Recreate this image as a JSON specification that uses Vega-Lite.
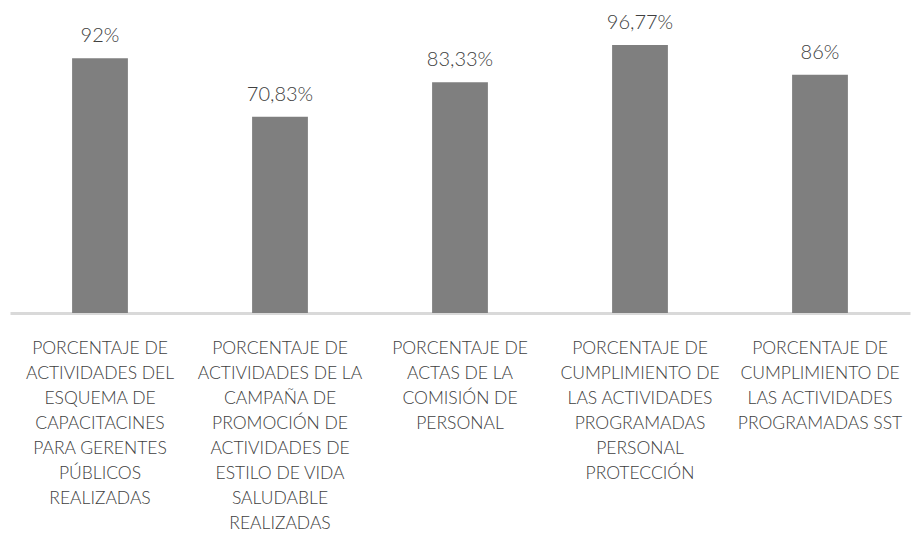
{
  "$schema": "https://vega.github.io/schema/vega-lite/v6.json",
  "width": 900,
  "height": 277,
  "autosize": {"type": "none"},
  "padding": {"left": 10, "top": 36, "right": 1, "bottom": 220},
  "background": "white",
  "config": {
    "view": {"stroke": null},
    "font": "Lato"
  },
  "data": {
    "values": [
      {"indicador": "PORCENTAJE DE|ACTIVIDADES DEL|ESQUEMA DE|CAPACITACINES|PARA GERENTES|PÚBLICOS|REALIZADAS", "valor": 92, "etiqueta": "92%"},
      {"indicador": "PORCENTAJE DE|ACTIVIDADES DE LA|CAMPAÑA DE|PROMOCIÓN DE|ACTIVIDADES DE|ESTILO DE VIDA|SALUDABLE|REALIZADAS", "valor": 70.83, "etiqueta": "70,83%"},
      {"indicador": "PORCENTAJE DE|ACTAS DE LA|COMISIÓN DE|PERSONAL", "valor": 83.33, "etiqueta": "83,33%"},
      {"indicador": "PORCENTAJE DE|CUMPLIMIENTO DE|LAS ACTIVIDADES|PROGRAMADAS|PERSONAL|PROTECCIÓN", "valor": 96.77, "etiqueta": "96,77%"},
      {"indicador": "PORCENTAJE DE|CUMPLIMIENTO DE|LAS ACTIVIDADES|PROGRAMADAS SST", "valor": 86, "etiqueta": "86%"}
    ]
  },
  "encoding": {
    "x": {
      "field": "indicador",
      "type": "nominal",
      "sort": null,
      "scale": {"paddingInner": 0.69, "paddingOuter": 0.345},
      "axis": {
        "title": null,
        "labelAngle": 0,
        "labelExpr": "split(datum.value, '|')",
        "labelFont": "Lato",
        "labelFontSize": 17.5,
        "labelFontWeight": 300,
        "labelColor": "#404040",
        "labelLineHeight": 25,
        "labelPadding": 26,
        "labelBaseline": "top",
        "labelLimit": 0,
        "ticks": false,
        "domainColor": "#d9d9d9",
        "domainWidth": 3,
        "grid": false
      }
    },
    "y": {
      "field": "valor",
      "type": "quantitative",
      "scale": {"domain": [0, 100], "nice": false},
      "axis": null
    }
  },
  "layer": [
    {"mark": {"type": "bar", "color": "#7f7f7f"}},
    {
      "mark": {"type": "text", "baseline": "alphabetic", "dy": -16, "fontSize": 20, "fontWeight": 300, "color": "#404040", "font": "Lato"},
      "encoding": {"text": {"field": "etiqueta"}}
    }
  ]
}
